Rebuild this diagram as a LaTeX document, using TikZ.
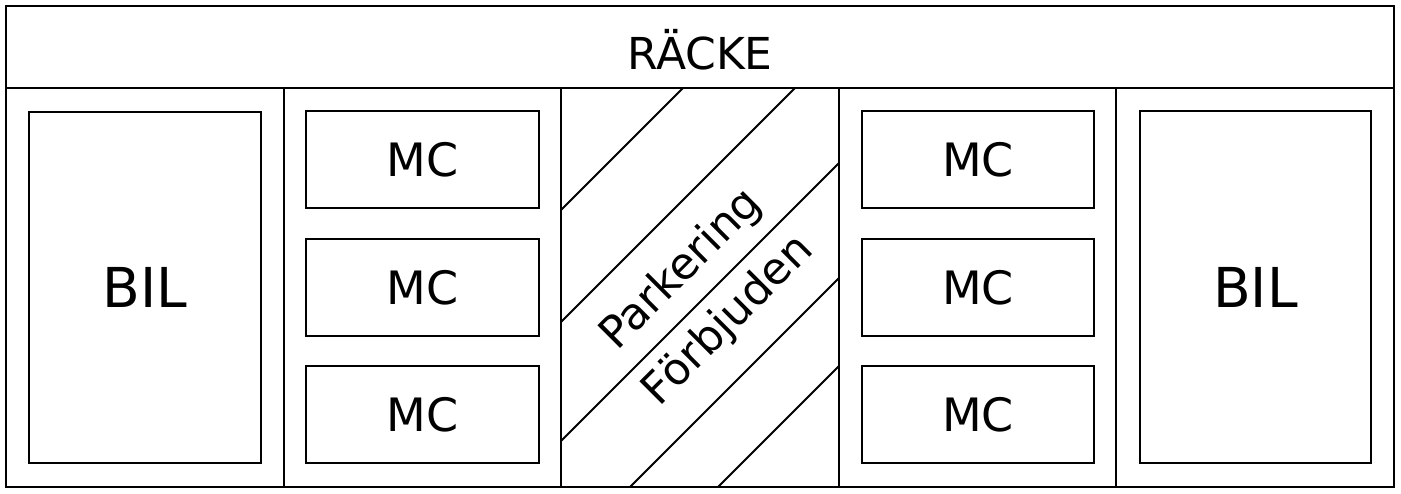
\documentclass[tikz,border=0pt]{standalone}
\usepackage{fontspec}
\setmainfont{DejaVu Sans}
\begin{document}
\begin{tikzpicture}[x=1pt,y=-1pt,line width=2pt,
  box/.style={draw,rectangle,inner sep=0pt,font=\fontsize{46}{50}\selectfont},
  bigbox/.style={draw,rectangle,inner sep=0pt,font=\fontsize{55}{60}\selectfont},
  lbl/.style={inner sep=0pt,font=\fontsize{44}{48}\selectfont,rotate=45}]
\useasboundingbox (0,0) rectangle (1401,493);
% frame
\draw (6,6) rectangle (1394,88);
\node[font=\fontsize{44}{48}\selectfont] (racke) at (700,50) {RÄCKE};
\draw (6,88) rectangle (283.6,487);
\draw (283.6,88) rectangle (561.2,487);
\draw (561.2,88) rectangle (838.8,487);
\draw (838.8,88) rectangle (1116.4,487);
\draw (1116.4,88) rectangle (1394,487);
% hatch
\draw (561.2,209.8) -- (683,88);
\draw (561.2,321.8) -- (795,88);
\draw (561.2,440.8) -- (838.8,163.2);
\draw (630,487) -- (838.8,278.2);
\draw (718,487) -- (838.8,366.2);
\node[lbl] (park) at (682,270) {Parkering};
\node[lbl] (forb) at (728.5,321) {Förbjuden};
% left
\node[bigbox,minimum width=232pt,minimum height=351pt] (bil1) at (145,287.5) {BIL};
\node[box,minimum width=233pt,minimum height=97pt] (mc1) at (422.5,159.5) {MC};
\node[box,minimum width=233pt,minimum height=97pt] (mc2) at (422.5,287.5) {MC};
\node[box,minimum width=233pt,minimum height=97pt] (mc3) at (422.5,414.5) {MC};
% right
\node[box,minimum width=232pt,minimum height=97pt] (mc4) at (978,159.5) {MC};
\node[box,minimum width=232pt,minimum height=97pt] (mc5) at (978,287.5) {MC};
\node[box,minimum width=232pt,minimum height=97pt] (mc6) at (978,414.5) {MC};
\node[bigbox,minimum width=231pt,minimum height=352pt] (bil2) at (1255.5,287) {BIL};
\end{tikzpicture}
\end{document}
